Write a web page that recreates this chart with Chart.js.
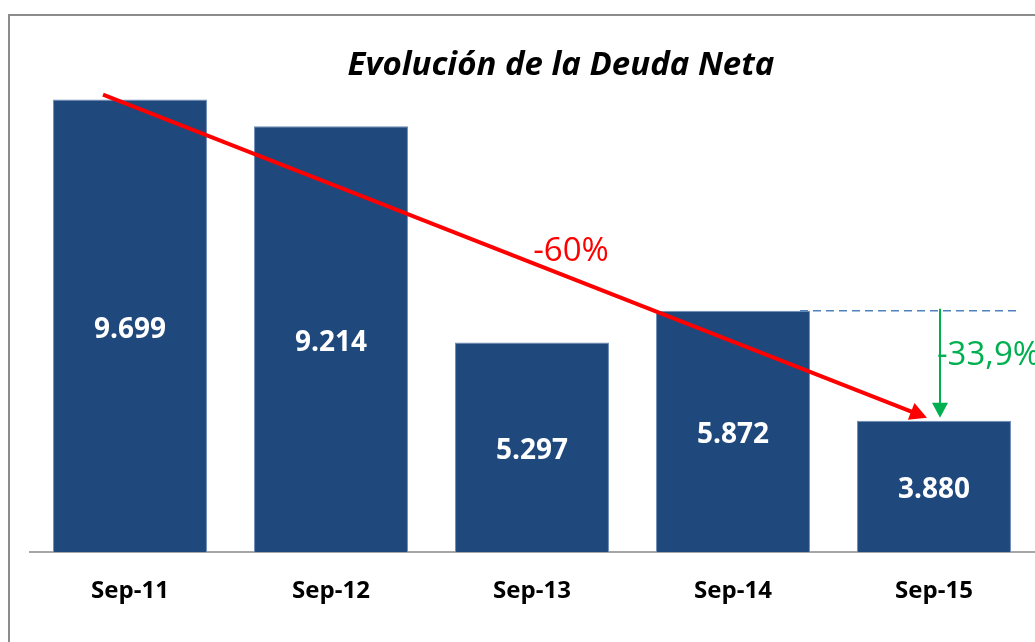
<!DOCTYPE html>
<html>
<head>
<meta charset="utf-8">
<script src="https://cdn.jsdelivr.net/npm/chart.js@4.4.1/dist/chart.umd.min.js"></script>
<style>
  html, body { margin: 0; padding: 0; background: #ffffff; overflow: hidden; }
  #wrap { position: absolute; left: 0; top: 0; width: 1035px; height: 642px; }
</style>
</head>
<body>
<div id="wrap"><canvas id="c" width="1035" height="642"></canvas></div>
<script>
const chartTitle = 'Evolución de la Deuda Neta';
const categories = ['Sep-11', 'Sep-12', 'Sep-13', 'Sep-14', 'Sep-15'];
const deudaNeta = [9699, 9214, 5297, 5872, 3880];
const totalChangeLabel = '-60%';
const lastYearChangeLabel = '-33,9%';

function fmt(v) {
  return String(v).replace(/\B(?=(\d{3})+(?!\d))/g, '.');
}

function arrowHead(ctx, x1, y1, x2, y2, len, half, color) {
  const a = Math.atan2(y2 - y1, x2 - x1);
  ctx.save();
  ctx.fillStyle = color;
  ctx.beginPath();
  ctx.moveTo(x2, y2);
  ctx.lineTo(x2 - len * Math.cos(a) + half * Math.sin(a), y2 - len * Math.sin(a) - half * Math.cos(a));
  ctx.lineTo(x2 - len * Math.cos(a) - half * Math.sin(a), y2 - len * Math.sin(a) + half * Math.cos(a));
  ctx.closePath();
  ctx.fill();
  ctx.restore();
}

const decor = {
  id: 'decor',
  beforeDraw(chart) {
    const ctx = chart.ctx;
    ctx.save();
    ctx.fillStyle = '#ffffff';
    ctx.fillRect(0, 0, chart.width, chart.height);
    ctx.strokeStyle = '#8c8c8c';
    ctx.lineWidth = 2;
    ctx.beginPath();
    ctx.moveTo(9, 700);
    ctx.lineTo(9, 15);
    ctx.lineTo(1100, 15);
    ctx.stroke();
    ctx.restore();
  },
  afterDatasetsDraw(chart) {
    const ctx = chart.ctx;
    const xs = chart.scales.x, ys = chart.scales.y;
    const meta = chart.getDatasetMeta(0);
    const bottom = chart.chartArea.bottom;
    // value labels
    ctx.save();
    ctx.fillStyle = '#ffffff';
    ctx.font = 'bold 28px "Open Sans"';
    ctx.textAlign = 'center';
    ctx.textBaseline = 'middle';
    meta.data.forEach((bar, i) => {
      const yMid = (bar.y + bottom) / 2;
      ctx.fillText(fmt(deudaNeta[i]), bar.x, yMid + 4);
    });
    ctx.restore();

    // title
    ctx.save();
    ctx.fillStyle = '#000000';
    ctx.font = 'italic bold 33px "Open Sans"';
    ctx.textAlign = 'center';
    ctx.textBaseline = 'middle';
    ctx.fillText(chartTitle, 561, 66);
    ctx.restore();

    const b0 = meta.data[0], b3 = meta.data[3], b4 = meta.data[4];

    // dashed reference line at Sep-14 level
    ctx.save();
    ctx.strokeStyle = '#4F81BD';
    ctx.lineWidth = 1.5;
    ctx.setLineDash([8, 5]);
    ctx.beginPath();
    ctx.moveTo(b3.x + 67, b3.y);
    ctx.lineTo(1020, b3.y);
    ctx.stroke();
    ctx.restore();

    // green arrow
    const gx = b4.x + 6;
    ctx.save();
    ctx.strokeStyle = '#00B050';
    ctx.lineWidth = 2;
    ctx.beginPath();
    ctx.moveTo(gx, b3.y - 2);
    ctx.lineTo(gx, b4.y - 14);
    ctx.stroke();
    ctx.restore();
    arrowHead(ctx, gx, b3.y, gx, b4.y - 3, 15, 8, '#00B050');

    ctx.save();
    ctx.fillStyle = '#00B050';
    ctx.font = '33px "Open Sans"';
    ctx.textAlign = 'left';
    ctx.textBaseline = 'middle';
    ctx.fillText(lastYearChangeLabel, gx - 3, (b3.y + b4.y) / 2 - 10);
    ctx.restore();

    // red arrow
    const rx1 = b0.x - 27, ry1 = b0.y - 5;
    const rx2 = b4.x - 7, ry2 = b4.y - 3;
    const ang = Math.atan2(ry2 - ry1, rx2 - rx1);
    ctx.save();
    ctx.strokeStyle = '#FF0000';
    ctx.lineWidth = 4;
    ctx.beginPath();
    ctx.moveTo(rx1, ry1);
    ctx.lineTo(rx2 - 14 * Math.cos(ang), ry2 - 14 * Math.sin(ang));
    ctx.stroke();
    ctx.restore();
    arrowHead(ctx, rx1, ry1, rx2, ry2, 17, 9, '#FF0000');

    ctx.save();
    ctx.fillStyle = '#FF0000';
    ctx.font = '33px "Open Sans"';
    ctx.textAlign = 'center';
    ctx.textBaseline = 'middle';
    ctx.fillText(totalChangeLabel, meta.data[2].x + 39, ys.getPixelForValue(6950));
    ctx.restore();
  }
};

new Chart(document.getElementById('c'), {
  type: 'bar',
  data: {
    labels: categories,
    datasets: [{
      data: deudaNeta,
      backgroundColor: '#1F497D',
      borderColor: '#6F8DB8',
      borderWidth: 1,
      categoryPercentage: 1.0,
      barPercentage: 0.766
    }]
  },
  options: {
    responsive: false,
    animation: false,
    devicePixelRatio: 1,
    layout: { padding: { left: 29.5, right: 0.5, top: 83, bottom: 0 } },
    plugins: {
      legend: { display: false },
      title: { display: false },
      tooltip: { enabled: false }
    },
    scales: {
      x: {
        grid: { display: false, drawTicks: false },
        border: { display: true, color: '#A6A6A6', width: 2 },
        ticks: {
          color: '#000000',
          font: { family: 'Open Sans', weight: 'bold', size: 24 },
          padding: 25,
          maxRotation: 0
        },
        afterFit(scale) { scale.height = 90; }
      },
      y: {
        display: false,
        min: 1500,
        max: 10000
      }
    }
  },
  plugins: [decor]
});
</script>
</body>
</html>
